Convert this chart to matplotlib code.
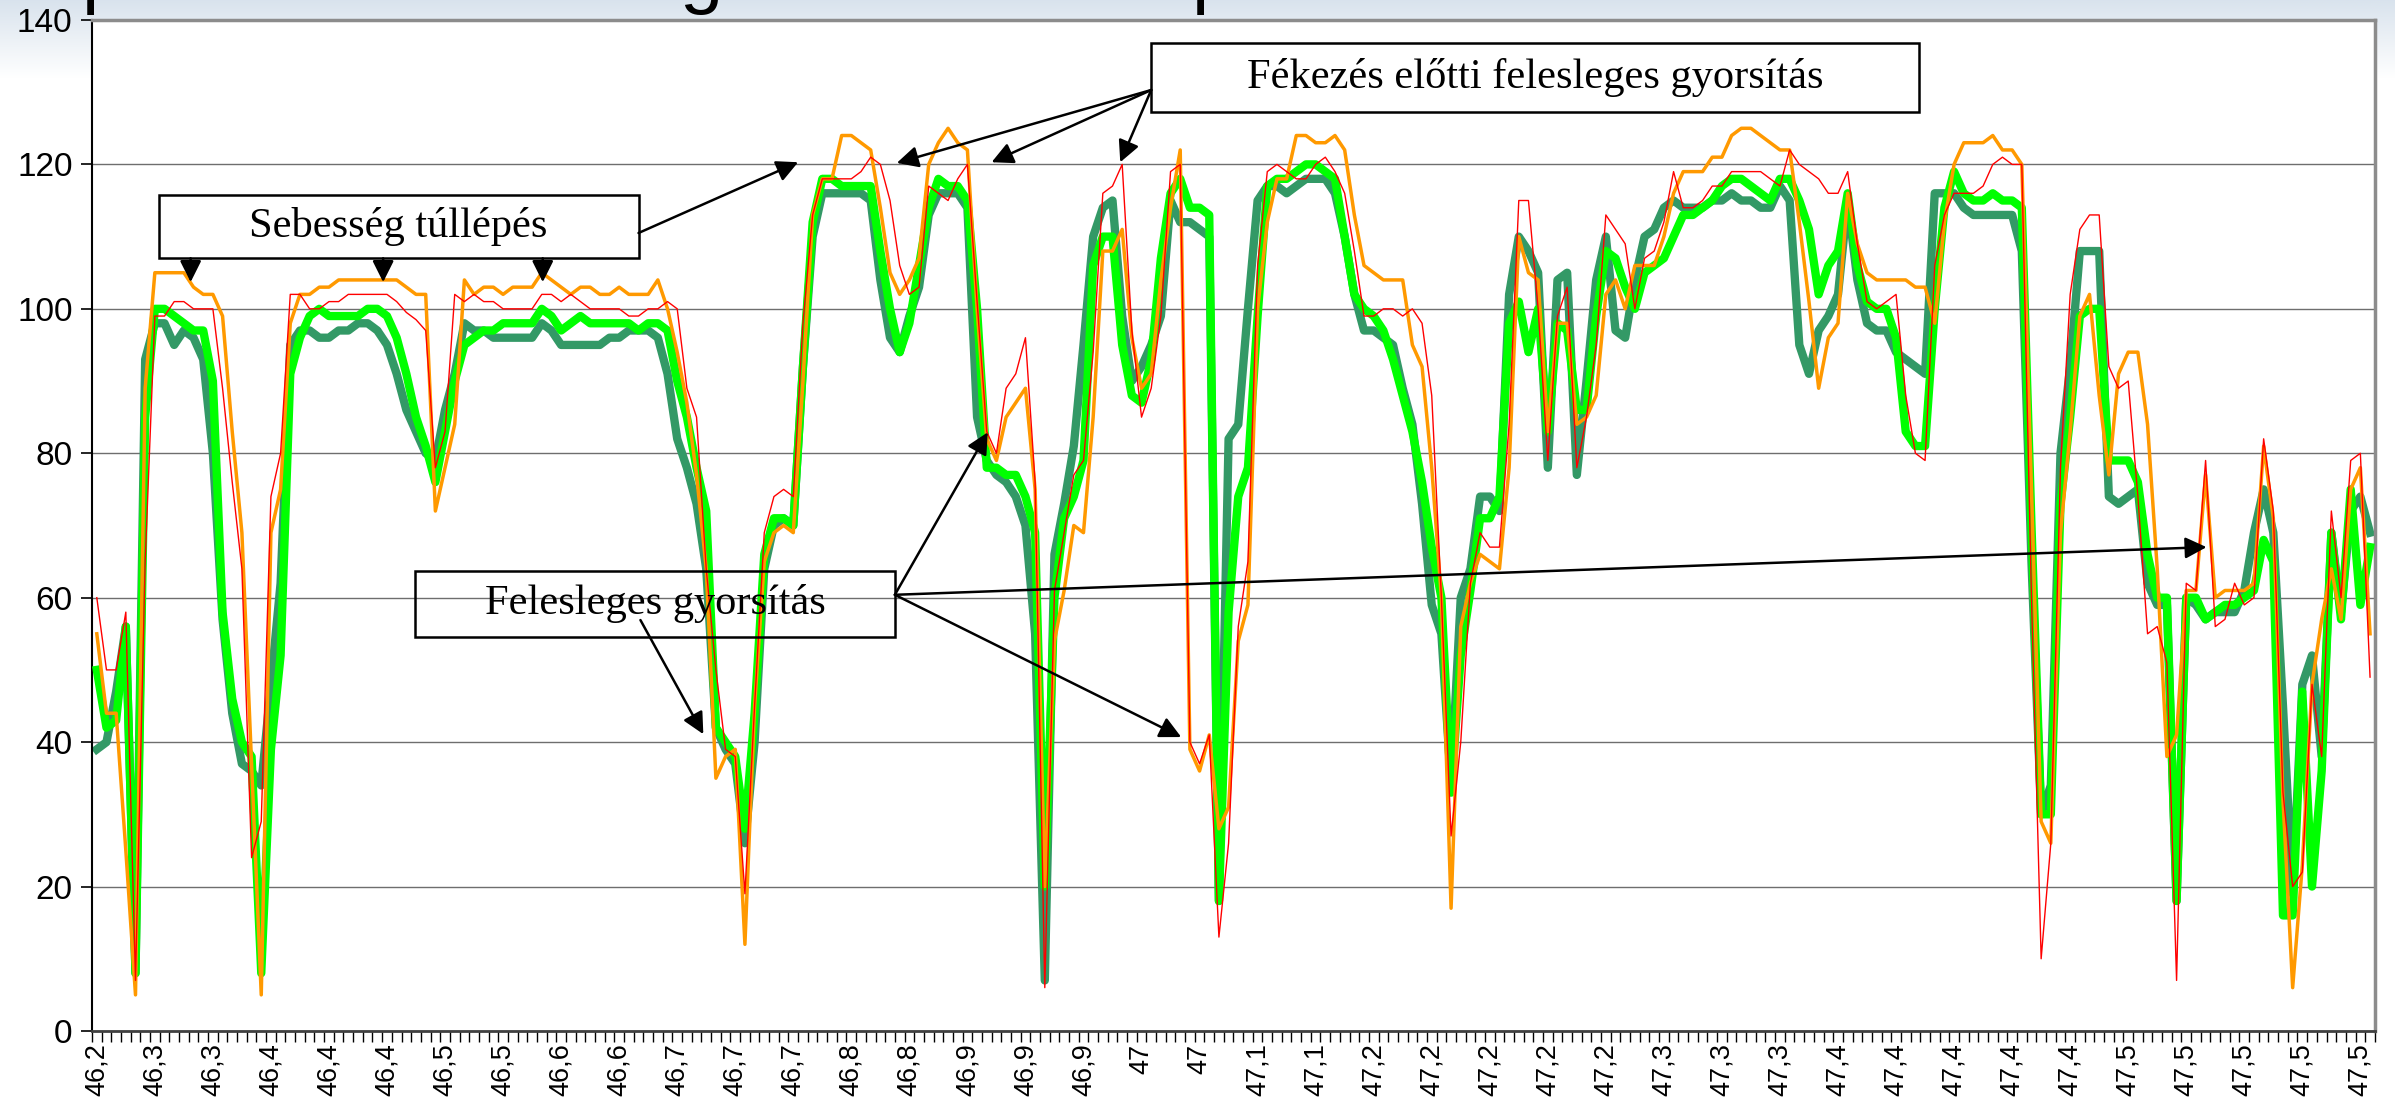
import numpy as np
import matplotlib
matplotlib.use('Agg')
import matplotlib.pyplot as plt
from matplotlib.patches import Rectangle
from matplotlib.ticker import NullFormatter

plt.rcParams['font.family'] = ['Liberation Sans', 'DejaVu Sans']

# km-szelvény feliratok, minden 6. mérési pont alatt
km_labels = ['46,2', '46,3', '46,3', '46,4', '46,4', '46,4', '46,5', '46,5',
             '46,6', '46,6', '46,7', '46,7', '46,7', '46,8', '46,8', '46,9',
             '46,9', '46,9', '47', '47', '47,1', '47,1', '47,2', '47,2',
             '47,2', '47,2', '47,2', '47,3', '47,3', '47,3', '47,4', '47,4',
             '47,4', '47,4', '47,4', '47,5', '47,5', '47,5', '47,5', '47,5']
label_step = 6

# sebesség (km/h) mérési pontonként
red = [
    60, 50, 50, 58, 7, 65, 99, 99, 101, 101,
    100, 100, 100, 89, 76, 64, 24, 29, 74, 80,
    102, 102, 100, 100, 101, 101, 102, 102, 102, 102,
    102, 101, 99.5, 98.5, 97, 78, 83, 102, 101, 102,
    101, 101, 100, 100, 100, 100, 102, 102, 101, 102,
    101, 100, 100, 100, 100, 99, 99, 100, 100, 101,
    100, 89, 85, 64, 50, 39, 38, 19, 45, 69,
    74, 75, 74, 98, 113, 118, 118, 118, 118, 119,
    121, 120, 115, 106, 102, 103, 117, 116, 115, 118,
    120, 101, 83, 80, 89, 91, 96, 76, 6, 61,
    69, 77, 79, 94, 116, 117, 120, 97, 85, 89,
    99, 119, 120, 40, 37, 41, 13, 26, 56, 65,
    106, 119, 120, 119, 118, 118, 120, 121, 119, 116,
    108, 99, 99, 100, 100, 99, 100, 98, 88, 60,
    27, 40, 62, 69, 67, 67, 84, 115, 115, 100,
    79, 99, 103, 78, 85, 95, 113, 111, 109, 100,
    107, 108, 112, 119, 114, 114, 115, 117, 117, 119,
    119, 119, 119, 118, 117, 122, 120, 119, 118, 116,
    116, 119, 109, 101, 100, 101, 102, 88, 80, 79,
    106, 113, 116, 116, 116, 117, 120, 121, 120, 120,
    60, 10, 26, 78, 102, 111, 113, 113, 92, 89,
    90, 74, 55, 56, 51, 7, 62, 61, 79, 56,
    57, 62, 59, 60, 82, 72, 33, 20, 22, 48,
    38, 72, 60, 79, 80, 49,
]

orange = [
    55, 44, 44, 25, 5, 89, 105, 105, 105, 105,
    103, 102, 102, 99, 83, 69, 37, 5, 69, 75,
    98, 102, 102, 103, 103, 104, 104, 104, 104, 104,
    104, 104, 103, 102, 102, 72, 78, 84, 104, 102,
    103, 103, 102, 103, 103, 103, 105, 104, 103, 102,
    103, 103, 102, 102, 103, 102, 102, 102, 104, 100,
    94, 87, 77, 64, 35, 38, 39, 12, 45, 65,
    69, 70, 69, 90, 113, 118, 118, 124, 124, 123,
    122, 114, 105, 102, 104, 107, 120, 123, 125, 123,
    122, 100, 82, 79, 85, 87, 89, 75, 20, 54,
    61, 70, 69, 85, 108, 108, 111, 96, 89, 91,
    104, 114, 122, 39, 36, 41, 28, 31, 54, 59,
    100, 112, 118, 118, 124, 124, 123, 123, 124, 122,
    113, 106, 105, 104, 104, 104, 95, 92, 78, 60,
    17, 56, 62, 66, 65, 64, 78, 110, 105, 104,
    83, 98, 98, 84, 85, 88, 102, 104, 100, 106,
    106, 106, 110, 116, 119, 119, 119, 121, 121, 124,
    125, 125, 124, 123, 122, 122, 112, 101, 89, 96,
    98, 116, 109, 105, 104, 104, 104, 104, 103, 103,
    98, 112, 120, 123, 123, 123, 124, 122, 122, 120,
    75, 29, 26, 69, 83, 99, 102, 88, 77, 91,
    94, 94, 84, 64, 38, 41, 61, 61, 77, 60,
    61, 61, 61, 62, 81, 71, 32, 6, 23, 48,
    57, 64, 57, 75, 78, 55,
]

dark_green = [
    39, 40, 47, 56, 8, 93, 98, 98, 95, 97,
    96, 93, 80, 57, 44, 37, 36, 34, 48, 62,
    95, 97, 97, 96, 96, 97, 97, 98, 98, 97,
    95, 91, 86, 83, 80, 79, 86, 91, 98, 97,
    97, 96, 96, 96, 96, 96, 98, 97, 95, 95,
    95, 95, 95, 96, 96, 97, 97, 97, 96, 91,
    82, 78, 73, 64, 42, 39, 37, 26, 40, 64,
    70, 71, 70, 92, 110, 116, 116, 116, 116, 116,
    115, 104, 96, 94, 99, 103, 113, 116, 116, 116,
    114, 85, 79, 77, 76, 74, 70, 55, 7, 66,
    73, 81, 95, 110, 114, 115, 99, 90, 92, 95,
    99, 115, 112, 112, 111, 110, 18, 82, 84, 100,
    115, 117, 117, 116, 117, 118, 118, 118, 116, 110,
    102, 97, 97, 96, 95, 89, 84, 73, 59, 55,
    34, 60, 64, 74, 74, 72, 102, 110, 108, 105,
    78, 104, 105, 77, 90, 104, 110, 97, 96, 104,
    110, 111, 114, 115, 114, 114, 114, 115, 115, 116,
    115, 115, 114, 114, 117, 115, 95, 91, 97, 99,
    102, 115, 104, 98, 97, 97, 94, 93, 92, 91,
    116, 116, 116, 114, 113, 113, 113, 113, 113, 108,
    65, 30, 34, 80, 92, 108, 108, 108, 74, 73,
    74, 75, 62, 59, 59, 18, 60, 59, 57, 58,
    58, 58, 61, 69, 75, 69, 45, 19, 48, 52,
    38, 69, 58, 72, 74, 69,
]

green = [
    50, 42, 43, 56, 8, 85, 100, 100, 99, 98,
    97, 97, 90, 58, 46, 40, 38, 8, 39, 52,
    91, 96, 99, 100, 99, 99, 99, 99, 100, 100,
    99, 96, 91, 85, 81, 76, 83, 90, 95, 96,
    97, 97, 98, 98, 98, 98, 100, 99, 97, 98,
    99, 98, 98, 98, 98, 98, 97, 98, 98, 97,
    90, 85, 78, 72, 42, 40, 38, 28, 44, 66,
    71, 71, 70, 92, 112, 118, 118, 117, 117, 117,
    117, 108, 100, 94, 98, 106, 114, 118, 117, 117,
    115, 100, 78, 78, 77, 77, 74, 69, 20, 60,
    71, 74, 79, 106, 110, 110, 95, 88, 87, 93,
    107, 116, 118, 114, 114, 113, 18, 58, 74, 78,
    99, 117, 118, 118, 119, 120, 120, 119, 118, 110,
    102, 100, 99, 97, 93, 88, 83, 76, 67, 60,
    33, 52, 61, 71, 71, 74, 98, 101, 94, 100,
    83, 98, 97, 86, 86, 99, 108, 107, 103, 100,
    105, 106, 107, 110, 113, 113, 114, 115, 117, 118,
    118, 117, 116, 115, 118, 118, 115, 111, 102, 106,
    108, 116, 106, 101, 100, 100, 96, 83, 81, 81,
    100, 114, 119, 116, 115, 115, 116, 115, 115, 114,
    70, 30, 30, 73, 85, 99, 100, 100, 79, 79,
    79, 76, 66, 60, 60, 18, 60, 60, 57, 58,
    59, 59, 60, 61, 68, 65, 16, 16, 47, 20,
    36, 69, 57, 75, 59, 67,
]

y_ticks = [0, 20, 40, 60, 80, 100, 120, 140]

fig = plt.figure(figsize=(23.95, 11.03), dpi=100)

# halványkék dia-háttér a kép tetején
bg = fig.add_axes([0, 0, 1, 1], zorder=-10)
t = np.clip(np.linspace(0, 1, 1103) / 0.07, 0, 1)[:, None, None]
top = np.array([0.85, 0.89, 0.93])
bg.imshow(top * (1 - t) + np.ones(3) * t, aspect='auto', extent=(0, 1, 0, 1))
bg.axis('off')

# a dia címének lelógó betűi (a cím maga a képen kívül esik)
for xpos, ch in [(82, 'p'), (680, 'g'), (1192, 'p')]:
    fig.text(xpos / 2395, 1 + 1 / 1103, ch, fontsize=56, va='baseline',
             ha='left', color='black')

ax = fig.add_axes([0.0384, 0.0653, 0.9532, 0.9166])
x = np.arange(len(red))

ax.plot(x, dark_green, color='#339966', lw=6, zorder=2)
ax.plot(x, green, color='#00FF00', lw=6, zorder=3)
ax.plot(x, orange, color='#FF9900', lw=2.5, zorder=4)
ax.plot(x, red, color='#FF0000', lw=1.0, zorder=5)

ax.set_xlim(-0.5, len(red) - 0.5)
ax.set_ylim(0, 140)

ax.set_yticks(y_ticks)
ax.yaxis.grid(True, color='#6e6e6e', lw=1)
ax.set_axisbelow(True)
ax.tick_params(axis='y', length=8, width=1.2, labelsize=24, pad=6)

# osztások a kategóriák között, felirat minden 6. ponton
ax.set_xticks(np.arange(-0.5, len(red), 1))
ax.xaxis.set_major_formatter(NullFormatter())
ax.set_xticks(np.arange(0, len(red), label_step), km_labels, minor=True)
ax.tick_params(axis='x', which='major', length=8, width=1)
ax.tick_params(axis='x', which='minor', length=0, labelsize=19.5,
               labelrotation=90, pad=9)

ax.spines['left'].set_linewidth(1.5)
ax.spines['left'].set_color('black')
ax.spines['bottom'].set_linewidth(2)
ax.spines['bottom'].set_color('#404040')
for side in ('top', 'right'):
    ax.spines[side].set_linewidth(2.5)
    ax.spines[side].set_color('#8c8c8c')

# szöveges dobozok
serif = 'Liberation Serif'
boxes = [
    ((6.4, 107.0), 49.6, 8.8, 'Sebesség túllépés'),
    ((109.0, 127.3), 79.4, 9.5, 'Fékezés előtti felesleges gyorsítás'),
    ((32.9, 54.6), 49.6, 9.1, 'Felesleges gyorsítás'),
]
for (bx, by), bw, bh, txt in boxes:
    ax.add_patch(Rectangle((bx, by), bw, bh, facecolor='none',
                           edgecolor='black', lw=1.8, zorder=6, clip_on=False))
    ax.text(bx + bw / 2, by + bh / 2, txt, ha='center', va='center',
            family=serif, fontsize=30.5, zorder=7)

arrows = [
    ((9.7, 107.0), (9.7, 103.7)),
    ((29.6, 107.0), (29.6, 103.7)),
    ((46.1, 107.0), (46.1, 103.7)),
    ((56.0, 110.5), (72.5, 120.3)),
    ((109.0, 130.3), (82.7, 120.2)),
    ((109.0, 130.3), (92.5, 120.3)),
    ((109.0, 130.3), (105.8, 120.3)),
    ((82.5, 60.4), (92.1, 82.9)),
    ((82.5, 60.4), (218.1, 67.0)),
    ((82.5, 60.4), (112.1, 40.7)),
    ((56.2, 56.9), (62.7, 41.1)),
]
for tail, tip in arrows:
    ax.annotate('', xy=tip, xytext=tail, zorder=8, annotation_clip=False,
                arrowprops=dict(arrowstyle='-|>,head_length=0.5,head_width=0.25',
                                mutation_scale=26, lw=1.8, color='black',
                                shrinkA=0, shrinkB=0))

fig.savefig('out.png', dpi=100)
